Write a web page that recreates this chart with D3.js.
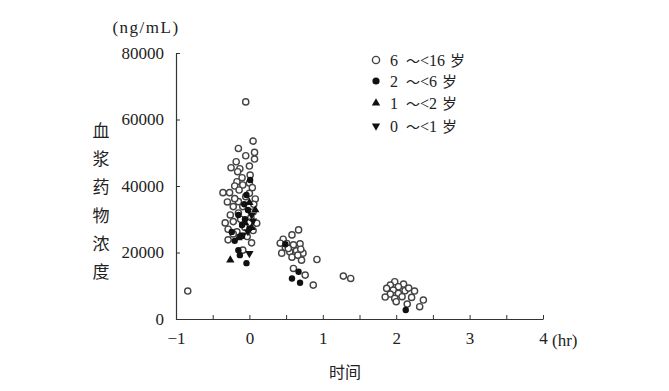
<!DOCTYPE html>
<html><head><meta charset="utf-8">
<script src="https://cdn.jsdelivr.net/npm/d3@7/dist/d3.min.js"></script>
<style>body{margin:0;background:#fff}svg{display:block}</style>
</head><body>
<svg id="c" width="669" height="391"></svg>
<script>
// Data: [time (hr), concentration (ng/mL)]
const xTicks = [-1, 0, 1, 2, 3, 4];
const yTicks = [0, 20000, 40000, 60000, 80000];
const groups = ["6 ～<16 岁", "2 ～<6 岁", "1 ～<2 岁", "0 ～<1 岁"];

const age6to16 = [
  [-0.05,65300],[0.05,53500],[-0.15,51300],[-0.05,49100],[0.07,50100],[0.07,48100],
  [-0.18,47300],[-0.25,45500],[-0.13,45200],[0.0,46000],[-0.16,44300],[0.01,43300],
  [-0.17,41300],[-0.09,40300],[0.0,40900],[-0.36,38000],[-0.27,38000],[0.04,39500],
  [-0.15,35300],[0.08,36100],[-0.22,33800],[-0.09,33800],[-0.26,31300],[-0.15,31900],
  [0.05,32200],[-0.33,28900],[-0.22,29300],[0.1,28800],[-0.09,28300],[-0.29,27000],
  [-0.17,26200],[0.05,26600],[-0.29,23800],[0.03,22900],[-0.09,20700],[-0.2,36200],
  [-0.05,36800],[0.02,30500],[-0.12,30000],[-0.03,24800],[-0.22,25600],[0.06,34500],
  [-0.1,42500],[-0.3,35200],[-0.2,40000],[-0.06,27500],[0.0,37800],[-0.14,38800],
  [-0.84,8400],
  [0.67,26800],[0.58,25300],[0.46,24000],[0.42,22800],[0.51,22700],[0.6,22300],
  [0.69,22600],[0.49,21500],[0.44,19800],[0.55,20200],[0.64,20500],[0.73,19800],
  [0.58,18600],[0.71,17700],[0.92,17900],[0.6,15200],[0.76,13200],[0.87,10200],
  [1.28,12900],[1.38,12200],[0.53,21200],[0.66,19200],[0.7,21000],
  [1.98,11200],[2.1,10500],[1.92,10200],[2.03,9700],[1.87,9200],[1.96,8700],
  [2.12,8500],[1.92,7500],[2.03,7700],[2.08,6700],[2.21,6500],[2.37,5700],
  [2.32,3700],[1.85,6600],[1.98,6200],[2.17,9300],[2.25,8400],[2.0,5200],[2.15,4500]
];
const age2to6 = [
  [0.01,41800],[-0.04,37300],[-0.02,32800],[-0.15,31300],[-0.06,30000],[-0.24,26200],
  [-0.1,28300],[-0.15,20700],[-0.04,16800],[-0.13,19200],[-0.07,34500],[-0.2,23500],
  [0.0,27200],[-0.1,25000],
  [0.49,22500],[0.67,14200],[0.58,12200],[0.69,10900],
  [2.13,2700]
];
const age1to2 = [
  [0.08,32800],[-0.15,24400],[-0.26,17700],[-0.06,29000],[0.03,27500],[0.0,35000]
];
const age0to1 = [
  [0.03,31300],[-0.09,25300],[0.0,19700],[-0.02,26300],[0.05,29500]
];

const svg = d3.select("#c");
const x = d3.scaleLinear().domain([-1, 4]).range([176, 543]);
const y = d3.scaleLinear().domain([0, 80000]).range([319, 53]);
const serif = "'Liberation Serif','DejaVu Serif',serif";
const cjk = "'Noto Sans CJK SC','Noto Sans CJK JP',sans-serif";
const axCol = "#333";

// axes
const xAxis = d3.axisBottom(x).tickValues(d3.range(-1, 4.01, 0.5)).tickSizeInner(-4).tickSizeOuter(0)
  .tickFormat(d => Number.isInteger(d) ? d3.format("d")(d).replace("-", "−") : "");
const gx = svg.append("g").attr("transform", `translate(0,${y(0)})`).call(xAxis);
gx.select(".domain").attr("stroke", axCol).attr("stroke-width", 1.2);
gx.selectAll(".tick line").attr("stroke", axCol);
gx.selectAll(".tick text").attr("font-family", serif).attr("font-size", 17).attr("fill", "#222").attr("dy", "1.3em");

const yAxis = d3.axisLeft(y).tickValues(yTicks).tickSizeInner(-4).tickSizeOuter(0).tickFormat(d3.format("d"));
const gy = svg.append("g").attr("transform", `translate(${x(-1)},0)`).call(yAxis);
gy.select(".domain").attr("stroke", axCol).attr("stroke-width", 1.2);
gy.selectAll(".tick line").attr("stroke", axCol);
gy.selectAll(".tick text").attr("font-family", serif).attr("font-size", 17).attr("fill", "#222").attr("x", -12);

// axis labels
svg.append("text").attr("x", 146).attr("y", 33).attr("text-anchor", "middle")
  .attr("font-family", serif).attr("font-size", 17).attr("letter-spacing", 1.5).attr("fill", "#222").text("(ng/mL)");
svg.append("text").attr("x", 552).attr("y", 346)
  .attr("font-family", serif).attr("font-size", 17).attr("fill", "#222").text("(hr)");
svg.append("text").attr("x", 345).attr("y", 378).attr("text-anchor", "middle")
  .attr("font-family", cjk).attr("font-size", 16).attr("fill", "#222").text("时间");
const ylab = "血浆药物浓度".split("");
svg.append("g").selectAll("text").data(ylab).join("text")
  .attr("x", 101).attr("y", (d, i) => 137 + i * 28.2).attr("text-anchor", "middle")
  .attr("font-family", cjk).attr("font-size", 17).attr("fill", "#222").text(d => d);

// markers
const tri = d3.symbol().type(d3.symbolTriangle).size(30);
function drawCircles(data) {
  svg.append("g").selectAll("circle").data(data).join("circle")
    .attr("cx", d => x(d[0])).attr("cy", d => y(d[1])).attr("r", 3.1)
    .attr("fill", "#fff").attr("stroke", "#444").attr("stroke-width", 1.4);
}
function drawDots(data) {
  svg.append("g").selectAll("circle").data(data).join("circle")
    .attr("cx", d => x(d[0])).attr("cy", d => y(d[1])).attr("r", 3.2).attr("fill", "#111");
}
function drawTri(data, rot) {
  svg.append("g").selectAll("path").data(data).join("path")
    .attr("d", tri).attr("fill", "#111")
    .attr("transform", d => `translate(${x(d[0])},${y(d[1])}) rotate(${rot})`);
}
drawCircles(age6to16);
drawDots(age2to6);
drawTri(age1to2, 0);
drawTri(age0to1, 180);

// legend
const lg = svg.append("g");
const rows = [60, 81, 103, 126];
lg.append("circle").attr("cx", 376).attr("cy", rows[0]).attr("r", 3.6).attr("fill", "#fff").attr("stroke", "#444").attr("stroke-width", 1.4);
lg.append("circle").attr("cx", 376).attr("cy", rows[1]).attr("r", 3.6).attr("fill", "#111");
lg.append("path").attr("d", tri).attr("fill", "#111").attr("transform", `translate(376,${rows[2]})`);
lg.append("path").attr("d", tri).attr("fill", "#111").attr("transform", `translate(376,${rows[3]}) rotate(180)`);
groups.forEach((g, i) => {
  const parts = g.split(" ");
  const t = lg.append("text").attr("y", rows[i] + 6).attr("font-family", serif).attr("font-size", 16).attr("fill", "#222");
  t.append("tspan").attr("x", 390).text(parts[0]);
  t.append("tspan").attr("x", 406).attr("font-family", cjk).attr("font-size", 14).text(parts[1].slice(0, 1));
  t.append("tspan").text(parts[1].slice(1));
  t.append("tspan").attr("dx", 5).attr("font-family", cjk).attr("font-size", 15).text(parts[2]);
});
</script>
</body></html>
